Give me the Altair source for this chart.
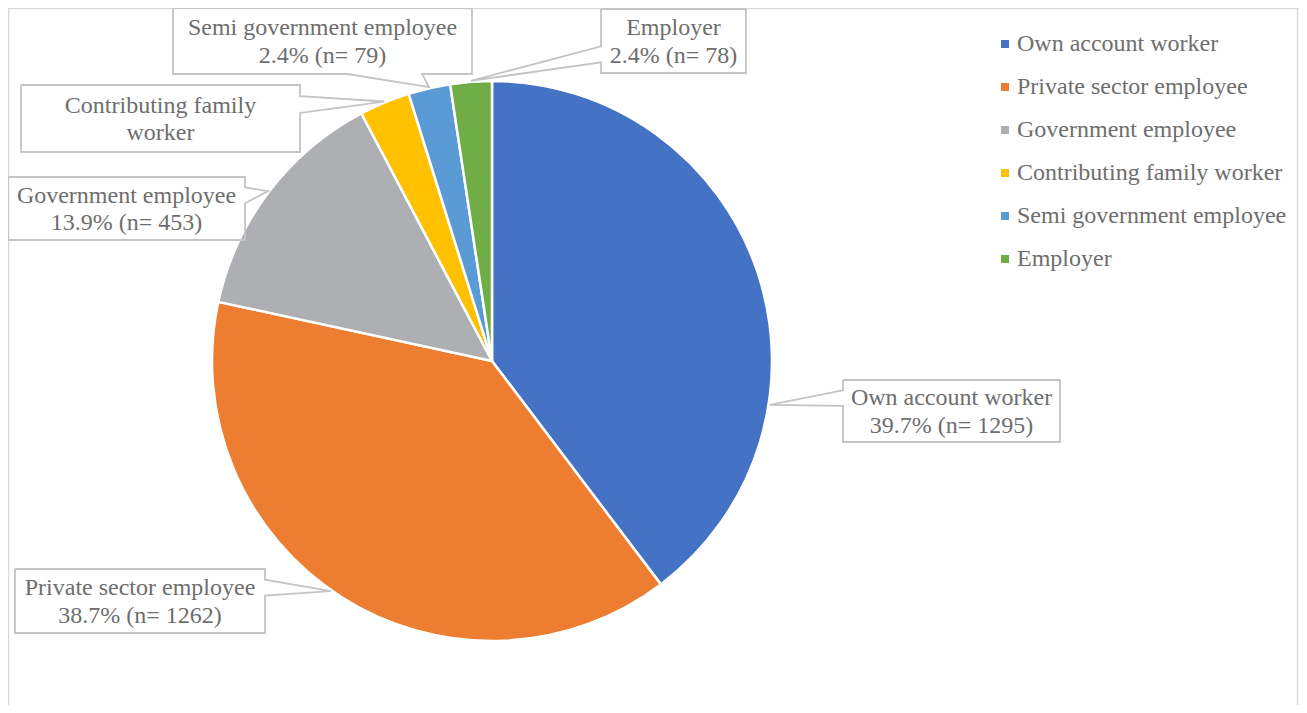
import math
import altair as alt
import pandas as pd

# ---------------- data ----------------
categories = [
    "Own account worker",
    "Private sector employee",
    "Government employee",
    "Contributing family worker",
    "Semi government employee",
    "Employer",
]
counts = [1295, 1262, 453, 95, 79, 78]
label_texts = [
    "Own account worker\n39.7% (n= 1295)",
    "Private sector employee\n38.7% (n= 1262)",
    "Government employee\n13.9% (n= 453)",
    "Contributing family\nworker",
    "Semi government employee\n2.4% (n= 79)",
    "Employer\n2.4% (n= 78)",
]

# ---------------- styles / layout ----------------
colors = ["#4472C4", "#ED7D31", "#AEAFB3", "#FFC000", "#5B9BD5", "#70AD47"]
TEXT_COLOR = "#6E6E6E"
FONT = "'Liberation Serif', 'Times New Roman', Times, 'DejaVu Serif', serif"
W, H = 1291, 697
CX, CY, R = 484, 353, 280
LINE_H = 27.6

# callout boxes (x0, y0, x1, y1, side of wedge) in chart pixels
callout_boxes = [
    (835, 372, 1052, 434, "left"),
    (7, 561, 257, 625, "right"),
    (0, 169, 237, 232, "right"),
    (13, 77, 292, 144, "right"),
    (165, 0, 464, 66, "bottom"),
    (593, 1, 738, 65, "left"),
]
# leader tip angle overrides (degrees clockwise from 12 o'clock); None = slice middle
tip_angle_override = [99.0, 215.0, None, None, None, None]

total = sum(counts)
pie_df = pd.DataFrame({"category": categories, "count": counts, "idx": list(range(len(categories)))})

# ---- callout outlines (box + wedge) ----
rows = []
text_rows = []
cum = 0
for i, (cat, c) in enumerate(zip(categories, counts)):
    start = cum / total * 360
    mid = start + c / total * 180
    cum += c
    ang = tip_angle_override[i] if tip_angle_override[i] is not None else mid
    tx = CX + (R + 1) * math.sin(math.radians(ang))
    ty = CY - (R + 1) * math.cos(math.radians(ang))
    x0, y0, x1, y1, side = callout_boxes[i]
    w, h = x1 - x0, y1 - y0
    pts = [(x0, y0), (x1, y0)]
    if side == "right":
        f = (7 / 12, 10 / 12) if ty > (y0 + y1) / 2 else (2 / 12, 5 / 12)
        pts += [(x1, y0 + h * f[0]), (tx, ty), (x1, y0 + h * f[1])]
    pts += [(x1, y1)]
    if side == "bottom":
        f = (7 / 12, 10 / 12) if tx > (x0 + x1) / 2 else (2 / 12, 5 / 12)
        pts += [(x0 + w * f[1], y1), (tx, ty), (x0 + w * f[0], y1)]
    pts += [(x0, y1)]
    if side == "left":
        f = (7 / 12, 10 / 12) if ty > (y0 + y1) / 2 else (2 / 12, 5 / 12)
        pts += [(x0, y0 + h * f[1]), (tx, ty), (x0, y0 + h * f[0])]
    pts += [(x0, y0)]
    for k, (px, py) in enumerate(pts):
        rows.append({"label": cat, "seq": k, "px": px, "py": py})
    n_lines = label_texts[i].count("\n") + 1
    text_rows.append({
        "label": cat,
        "text": label_texts[i],
        "tx": (x0 + x1) / 2,
        "ty": (y0 + y1) / 2 + 1 - (n_lines - 1) * LINE_H / 2,
    })

outline_df = pd.DataFrame(rows)
text_df = pd.DataFrame(text_rows)

border_df = pd.DataFrame({
    "x": [0.5, 0.5, W - 1.5],
    "y": [0.5, 0.5, 0.5],
    "x2": [W - 1.5, 0.5, W - 1.5],
    "y2": [0.5, H + 20, H + 20],
})

pie = alt.Chart(pie_df).mark_arc(outerRadius=R, stroke="white", strokeWidth=2.5).encode(
    theta=alt.Theta("count:Q", stack=True),
    order=alt.Order("idx:Q"),
    color=alt.Color(
        "category:N",
        sort=categories,
        scale=alt.Scale(domain=categories, range=colors),
        legend=alt.Legend(
            title=None,
            orient="none",
            legendX=985,
            legendY=24,
            symbolType="square",
            symbolSize=64,
            symbolStrokeWidth=0,
            labelFont=FONT,
            labelFontSize=24,
            labelColor=TEXT_COLOR,
            labelLimit=500,
            labelOffset=0,
            rowPadding=19,
            padding=0,
        ),
    ),
    x=alt.value(CX),
    y=alt.value(CY),
)

outlines = alt.Chart(outline_df).mark_line(color="#C4C4C4", strokeWidth=1.8).encode(
    x=alt.X("px:Q", scale=None, axis=None),
    y=alt.Y("py:Q", scale=None, axis=None),
    detail="label:N",
    order="seq:Q",
)

texts = alt.Chart(text_df).mark_text(
    font=FONT, fontSize=24, color=TEXT_COLOR, align="center", baseline="middle",
    lineBreak="\n", lineHeight=LINE_H,
).encode(
    x=alt.X("tx:Q", scale=None, axis=None),
    y=alt.Y("ty:Q", scale=None, axis=None),
    text="text:N",
)

border = alt.Chart(border_df).mark_rule(color="#D9D9D9", strokeWidth=1.5).encode(
    x=alt.X("x:Q", scale=None, axis=None),
    y=alt.Y("y:Q", scale=None, axis=None),
    x2="x2:Q",
    y2="y2:Q",
)

chart = alt.layer(border, pie, outlines, texts).properties(
    width=W, height=H, padding=0,
    autosize=alt.AutoSizeParams(type="none"),
).configure_view(stroke=None).configure(background="white", font=FONT)

chart.save("out.html", embed_options={"renderer": "svg", "actions": False})
